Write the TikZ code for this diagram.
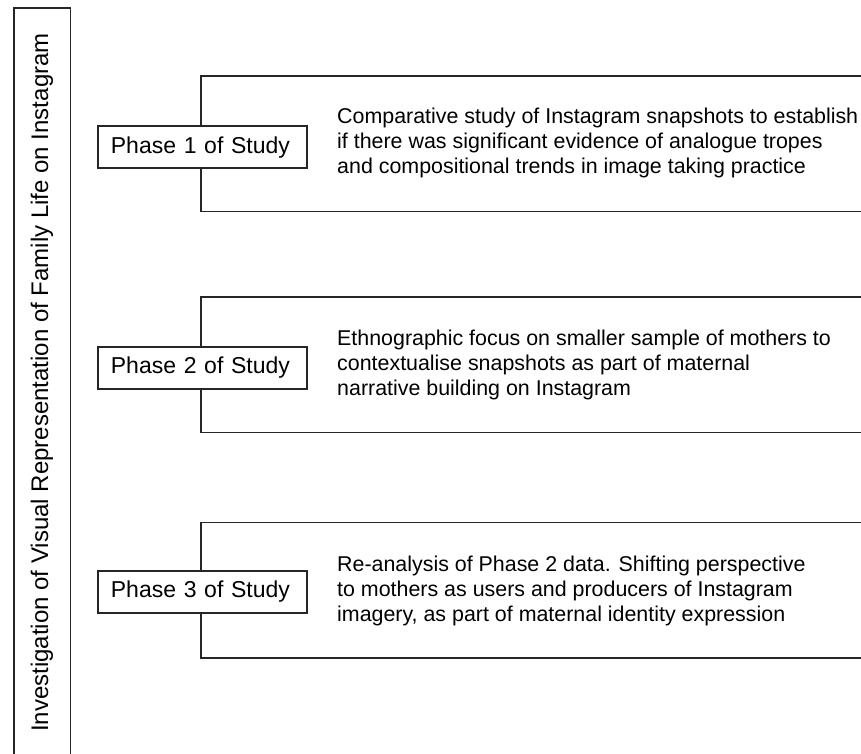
\documentclass[tikz,border=0pt]{standalone}
\usepackage{fontspec}
\setmainfont{Liberation Sans}
\begin{document}
\begin{tikzpicture}[x=1pt,y=-1pt,
  frame/.style={draw=black!85, line width=1.8pt, inner sep=0pt},
  bigbox/.style={draw=black!85, line width=1.8pt, fill=white, inner sep=0pt,
    minimum width=700pt, minimum height=135.5pt, anchor=north west},
  phasebox/.style={draw=black!85, line width=1.8pt, fill=white, anchor=west,
    text width=183pt, align=left, inner xsep=13pt, inner ysep=0pt,
    minimum height=42pt, font=\fontsize{23}{27}\selectfont},
  desc/.style={anchor=west, align=left, inner sep=0pt,
    font=\fontsize{21.4}{25}\selectfont},
  title/.style={rotate=90, inner sep=0pt, font=\fontsize{24}{28}\selectfont}]
\useasboundingbox (0,0) rectangle (861,753);
\clip (0,0) rectangle (861,753);
\fill[white] (0,0) rectangle (861,753);
% left frame with vertical title
\node[frame, minimum width=56.5pt, minimum height=780pt, anchor=north west] (leftframe) at (13,7) {};
\node[title] (titletext) at (42,382.5) {Investigation of Visual Representation of Family Life on Instagram};
% big boxes
\node[bigbox] (b1) at (200,75) {};
\node[bigbox] (b2) at (200,296) {};
\node[bigbox] (b3) at (200,521.5) {};
% descriptions
\node[desc] (d1) at (337,142.5) {Comparative study of Instagram snapshots to establish\\if there was significant evidence of analogue tropes\\and compositional trends in image taking practice};
\node[desc] (d2) at (337,364.5) {Ethnographic focus on smaller sample of mothers to\\contextualise snapshots as part of maternal\\narrative building on Instagram};
\node[desc] (d3) at (337,591) {Re-analysis of Phase 2 data. Shifting perspective\\to mothers as users and producers of Instagram\\imagery, as part of maternal identity expression};
% phase boxes
\node[phasebox] (p1) at (97,147.3) {Phase 1 of Study};
\node[phasebox] (p2) at (97,368) {Phase 2 of Study};
\node[phasebox] (p3) at (97,591.7) {Phase 3 of Study};
\end{tikzpicture}
\end{document}
